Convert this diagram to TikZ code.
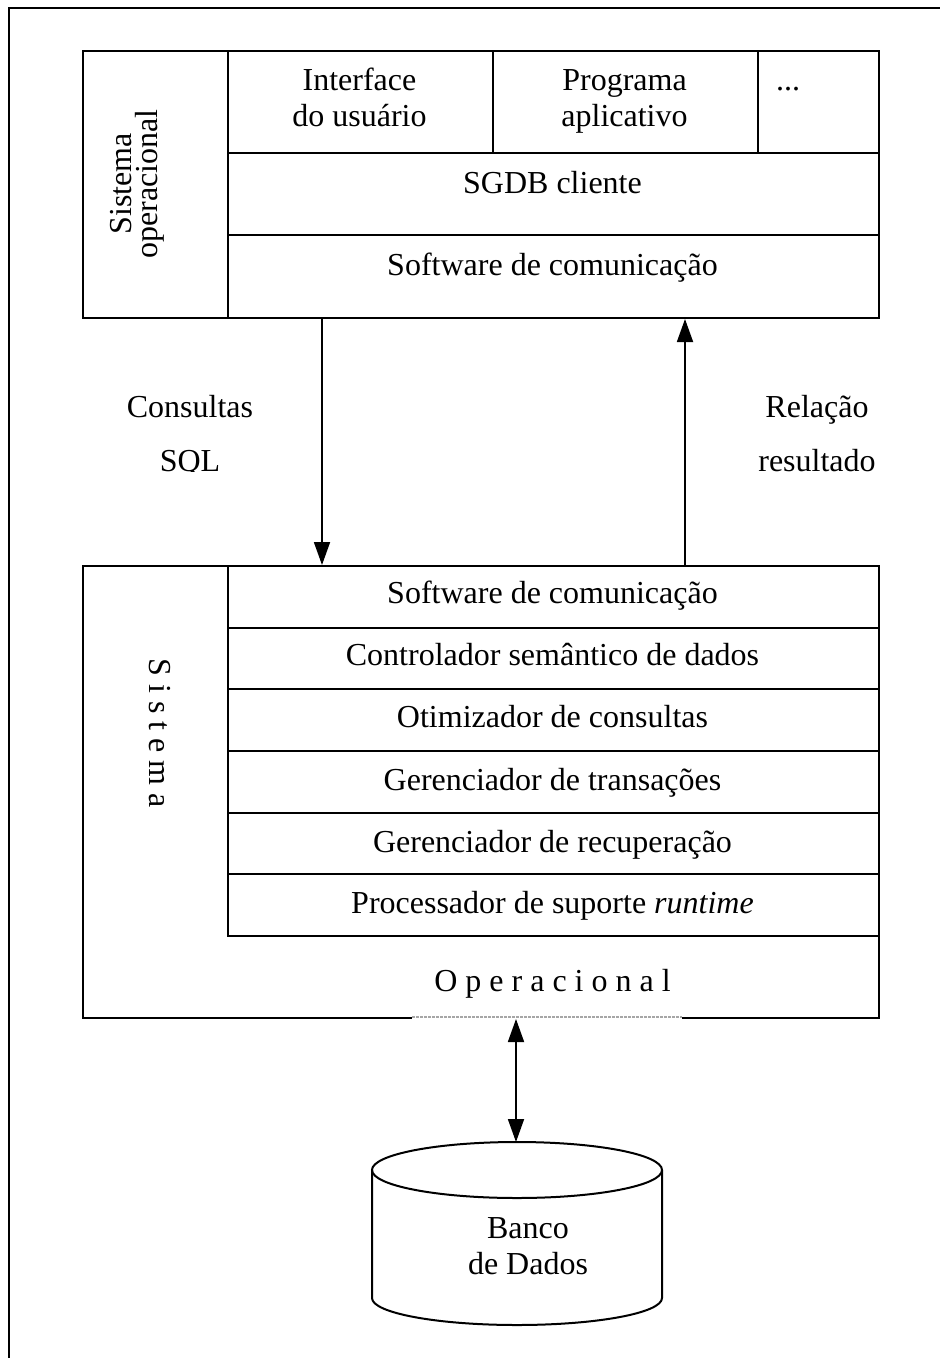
\documentclass[tikz,border=0pt]{standalone}
\usepackage{fontspec}
\setmainfont{Liberation Serif}
\usetikzlibrary{arrows.meta}
\setlength{\lineskiplimit}{-100pt}

\begin{document}
\begin{tikzpicture}[x=1pt,y=-1pt,
  frame/.style={line width=2pt},
  cell/.style={draw,line width=2pt,inner sep=0pt,anchor=north west},
  txt/.style={inner sep=0pt,font=\fontsize{32}{36}\selectfont},
  twoline/.style={txt,align=center},
  arr/.style={line width=1.8pt,-{Triangle[length=23pt,width=16pt]}},
  dblarr/.style={line width=1.8pt,{Triangle[length=23pt,width=16pt]}-{Triangle[length=23pt,width=16pt]}}]

\useasboundingbox (0,0) rectangle (940,1358);

% page frame (open towards the right and the bottom)
\draw[frame] (9,1362) -- (9,8) -- (944,8);

% ---------------- client side ----------------
\node[cell,minimum width=796,minimum height=267] (cli) at (82,50) {};
\node[cell,minimum width=145,minimum height=267] (os1) at (82,50) {};
\node[cell,minimum width=265,minimum height=101.7] (ui) at (227,50) {};
\node[cell,minimum width=265,minimum height=101.7] (app) at (492,50) {};
\node[cell,minimum width=121,minimum height=101.7] (etc) at (757,50) {};
\node[cell,minimum width=651,minimum height=82.3] (sgdb) at (227,151.7) {};
\node[cell,minimum width=651,minimum height=82.7] (comm1) at (227,234) {};

\node[txt,rotate=90,align=center,font=\fontsize{32}{26}\selectfont]
  (ostxt) at (137,184) {Sistema\\operacional};
\node[twoline] (uitxt) at (359.5,100.8) {\strut Interface\\\strut do usuário};
\node[twoline] (apptxt) at (624.5,100.8) {\strut Programa\\\strut aplicativo};
\node[txt,anchor=base west] (dots) at (776,90) {...};
\node[txt,anchor=base] (sgdbtxt) at (552.5,193) {SGDB cliente};
\node[txt,anchor=base] (comm1txt) at (552.5,275) {Software de comunicação};

% ---------------- server side ----------------
\node[cell,minimum width=796,minimum height=452] (srv) at (82,565) {};
\node[cell,minimum width=651,minimum height=61.7] (s1) at (227,565) {};
\node[cell,minimum width=651,minimum height=61.7] (s2) at (227,626.7) {};
\node[cell,minimum width=651,minimum height=61.7] (s3) at (227,688.3) {};
\node[cell,minimum width=651,minimum height=61.7] (s4) at (227,750) {};
\node[cell,minimum width=651,minimum height=61.7] (s5) at (227,811.7) {};
\node[cell,minimum width=651,minimum height=61.7] (s6) at (227,873.3) {};

\node[txt,anchor=base] (t1) at (552.5,603) {Software de comunicação};
\node[txt,anchor=base] (t2) at (552.5,665) {Controlador semântico de dados};
\node[txt,anchor=base] (t3) at (552.5,727) {Otimizador de consultas};
\node[txt,anchor=base] (t4) at (552.5,790) {Gerenciador de transações};
\node[txt,anchor=base] (t5) at (552.5,852) {Gerenciador de recuperação};
\node[txt,anchor=base] (t6) at (552.5,913) {Processador de suporte \textit{runtime}};

\node[txt,rotate=-90] (sis) at (159.6,733) {S i s t e m a};
\node[txt,anchor=base] (ope) at (552.5,991.7) {O p e r a c i o n a l};

% light dotted stretch on the lower border
\draw[white,line width=3pt] (412,1017) -- (682,1017);
\draw[black!35,line width=1.6pt,dash pattern=on 3pt off 1pt] (412,1017) -- (682,1017);

% ---------------- query / result arrows ----------------
\draw[arr] ([xshift=240pt]cli.south west) -- ([xshift=240pt]srv.north west);
\draw[arr] ([xshift=603pt]srv.north west) -- ([xshift=603pt]cli.south west);

\begin{scope}
  \clip (90,380) rectangle (900,471);
  \node[txt,anchor=base] (q1) at (190,417) {Consultas};
  \node[txt,anchor=base] (q2) at (190,471.5) {SQL};
  \node[txt,anchor=base] (r1) at (817,417) {Relação};
  \node[txt,anchor=base] (r2) at (817,471.5) {resultado};
\end{scope}

% ---------------- database ----------------
\draw[frame] (372,1170) -- (372,1298)
  arc[start angle=180,end angle=0,x radius=145,y radius=27] -- (662,1170);
\draw[frame] (517,1170) ellipse[x radius=145,y radius=28];
\coordinate (dbtop) at (516,1142);
\node[twoline] (db) at (528,1248.8) {\strut Banco\\\strut de Dados};

\draw[dblarr] ([xshift=434pt]srv.south west) -- (dbtop);

\end{tikzpicture}
\end{document}
